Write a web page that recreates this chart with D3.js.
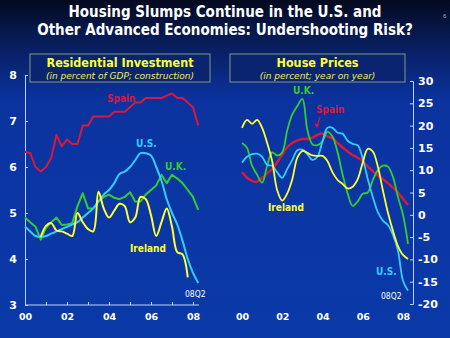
<!DOCTYPE html>
<html>
<head>
<meta charset="utf-8">
<script src="https://cdn.jsdelivr.net/npm/d3@7"></script>
<style>
  body { margin: 0; background: #0a3aa5; }
  svg { display: block; }
  .tick text { font-family: "DejaVu Sans", sans-serif; font-weight: bold; fill: #fff; }
</style>
</head>
<body>
<div id="chart-area"></div>
<script>
const width = 450, height = 338;

// quarters 2000Q1 .. 2008Q2
const quarters = d3.range(34).map(q => 2000 + q / 4);

// residential investment, percent of GDP
const invSpain = [6.33, 6.3, 6.0, 5.9, 6.0, 6.2, 6.7, 6.45, 6.6, 6.5, 6.5, 6.9, 6.9, 7.1, 7.1, 7.1, 7.1,
  7.2, 7.2, 7.2, 7.3, 7.4, 7.4, 7.5, 7.5, 7.5, 7.5, 7.55, 7.6, 7.5, 7.5, 7.4, 7.3, 6.9];
const invUS = [4.7, 4.6, 4.5, 4.48, 4.5, 4.55, 4.6, 4.65, 4.7, 4.75, 4.8, 4.9, 5.0, 5.1, 5.25, 5.4, 5.5,
  5.65, 5.85, 5.9, 6.0, 6.15, 6.3, 6.3, 6.25, 6.0, 5.7, 5.3, 5.0, 4.75, 4.4, 4.0, 3.7, 3.48];
const invUK = [4.9, 4.8, 4.7, 4.42, 4.68, 4.8, 4.9, 4.74, 4.75, 4.78, 5.15, 5.43, 5.1, 5.1, 5.25, 5.35, 5.4,
  5.33, 5.3, 5.35, 5.45, 5.25, 5.25, 5.4, 5.5, 5.6, 5.83, 5.65, 5.83, 5.75, 5.65, 5.5, 5.35, 5.07];
// Ireland: 2000Q4 .. 2007Q4
const invIreland = [null, null, null, 4.48, 4.72, 4.78, 4.62, 4.6, 4.55, 4.5, 5.0, 4.8, 4.65, 4.6, 5.46, 5.1, 4.9,
  5.05, 5.2, 5.15, 4.8, 4.9, 5.35, 5.3, 4.95, 4.5, 4.8, 5.1, 4.7, 4.15, 4.1, 3.6, null, null];

// house prices, percent year on year
const hpSpain = [9.6, 8.3, 7.6, 7.4, 8.3, 9.3, 10.3, 11.8, 13.5, 15.2, 16.1, 16.7, 17, 17, 17.3, 17.9, 18.2,
  17.6, 17.1, 16.1, 15.1, 14.2, 13.4, 12.8, 12, 10.8, 9.8, 8.8, 8, 7.1, 6.1, 5, 3.6, 2.2];
const hpUK = [16.1, 15, 11, 9, 7.2, 11, 14, 13.3, 14, 19, 22.5, 24.4, 26, 19, 15.8, 15.6, 16.5,
  18.6, 17.5, 14, 9, 4.8, 2, 3, 4.7, 5, 7.8, 10, 11, 10.8, 8.5, 4, 0, -6.5];
const hpUS = [11.7, 13, 13.6, 13.7, 13, 11.2, 11, 9.5, 8.3, 10.3, 12.3, 14.5, 14.6, 13.6, 12.3, 13, 16.5,
  19.5, 19.5, 18.4, 18.2, 16.6, 15.9, 15.6, 12.6, 8, 4, 0.6, -1.3, -2.3, -4.5, -8, -14.8, -17];
const hpIreland = [19.5, 21.3, 20.4, 21.3, 19.5, 16.1, 12, 5.5, 3.2, 4.8, 8, 12.8, 14.3, 13.9, 13.3, 13.2, 13.2,
  12, 9.5, 7.8, 6.9, 5.9, 6.3, 8, 11.7, 14.8, 14.2, 10.8, 5.5, 0.5, -3.6, -7, -9, -9.9];

const years = d3.range(2000, 2009);
const invTicks = [3, 4, 5, 6, 7, 8];
const hpTicks = d3.range(-20, 31, 5);

const cRed = '#d8183c', cCyan = '#33ccff', cGreen = '#33cc33', cYellow = '#ffff33';

let svg = d3.select('#chart-area')
  .append('svg')
  .attr('width', width)
  .attr('height', height);

// background
let grad = svg.append('defs').append('linearGradient')
  .attr('id', 'bg')
  .attr('x1', 0).attr('y1', 0).attr('x2', 0).attr('y2', 1);
grad.append('stop').attr('offset', '0%').attr('stop-color', '#03091e');
grad.append('stop').attr('offset', '12%').attr('stop-color', '#081c58');
grad.append('stop').attr('offset', '30%').attr('stop-color', '#0b33a0');
grad.append('stop').attr('offset', '100%').attr('stop-color', '#0a3aa8');
svg.append('rect').attr('width', width).attr('height', height).attr('fill', 'url(#bg)');

// title
let title = svg.append('text')
  .attr('text-anchor', 'middle')
  .attr('fill', '#fff')
  .attr('font-family', '"DejaVu Sans Condensed", "DejaVu Sans", sans-serif')
  .attr('font-stretch', 'condensed')
  .attr('font-weight', 'bold')
  .attr('font-size', '15px');
title.append('tspan').attr('x', 225).attr('y', 17).text('Housing Slumps Continue in the U.S. and');
title.append('tspan').attr('x', 225).attr('y', 35).text('Other Advanced Economies: Undershooting Risk?');

svg.append('text')
  .attr('x', 443).attr('y', 18)
  .attr('fill', '#aab')
  .attr('font-size', '6px')
  .attr('font-family', 'sans-serif')
  .text('6');

// panel headers
function header(x, w, main, sub) {
  svg.append('rect')
    .attr('x', x).attr('y', 54)
    .attr('width', w).attr('height', 28)
    .attr('fill', '#0a2470')
    .attr('stroke', '#7f9a86')
    .attr('stroke-width', 1);
  svg.append('text')
    .attr('x', x + w / 2).attr('y', 67)
    .attr('text-anchor', 'middle')
    .attr('fill', '#ffff33')
    .attr('font-family', '"DejaVu Sans Condensed", "DejaVu Sans", sans-serif')
    .attr('font-stretch', 'condensed')
    .attr('font-weight', 'bold')
    .attr('font-size', '12.5px')
    .text(main);
  svg.append('text')
    .attr('x', x + w / 2).attr('y', 79)
    .attr('text-anchor', 'middle')
    .attr('fill', '#eeee66')
    .attr('font-family', '"DejaVu Sans", sans-serif')
    .attr('font-style', 'italic')
    .attr('font-size', '9px')
    .text(sub);
}
header(30, 180, 'Residential Investment', '(in percent of GDP; construction)');
header(230, 175, 'House Prices', '(in percent; year on year)');

// scales
let xL = d3.scaleLinear().domain([2000, 2008]).range([25, 193]);
let yL = d3.scaleLinear().domain([3, 8]).range([305, 75]);
let xR = d3.scaleLinear().domain([2000, 2008]).range([242, 403]);
let yR = d3.scaleLinear().domain([-20, 30]).range([304, 81]);

// left axes
let gyL = svg.append('g')
  .attr('transform', 'translate(25,0)')
  .call(d3.axisLeft(yL).tickValues(invTicks).tickSize(-3).tickPadding(8).tickFormat(d => d));
let gxL = svg.append('g')
  .attr('transform', 'translate(0,305)')
  .call(d3.axisBottom(xL).tickValues(years).tickSize(-3).tickPadding(8)
    .tickFormat(d => d % 2 === 0 ? String(d).slice(2) : ''));
gxL.select('.domain').attr('d', 'M25,0H199');

// right axes
let gyR = svg.append('g')
  .attr('transform', 'translate(413,0)')
  .call(d3.axisRight(yR).tickValues(hpTicks).tickSize(-3).tickPadding(5).tickFormat(d => String(d)));
let gxR = svg.append('g')
  .attr('transform', 'translate(0,305)')
  .call(d3.axisBottom(xR).tickValues(years.filter(d => d % 2 === 0)).tickSize(0).tickPadding(8)
    .tickFormat(d => String(d).slice(2)));
gxR.select('.domain').remove();

[gyL, gxL, gyR, gxR].forEach(g => {
  g.selectAll('.domain').attr('stroke', '#b8d4ff').attr('stroke-width', 1);
  g.selectAll('.tick line').attr('stroke', '#b8d4ff');
});
gyL.selectAll('.tick text').attr('font-size', '11px');
gyR.selectAll('.tick text').attr('font-size', '11px');
gxL.selectAll('.tick text').attr('font-size', '9.5px');
gxR.selectAll('.tick text').attr('font-size', '9.5px');

// lines
function drawLine(x, y, values, color, w, curve) {
  let line = d3.line()
    .defined(d => d[1] != null)
    .x(d => x(d[0]))
    .y(d => y(d[1]))
    .curve(curve);
  svg.append('path')
    .datum(quarters.map((q, i) => [q, values[i]]))
    .attr('fill', 'none')
    .attr('stroke', color)
    .attr('stroke-width', w)
    .attr('stroke-linejoin', 'round')
    .attr('d', line);
}

drawLine(xL, yL, invSpain, cRed, 2, d3.curveLinear);
drawLine(xL, yL, invUK, cGreen, 2, d3.curveLinear);
drawLine(xL, yL, invUS, cCyan, 2, d3.curveCatmullRom);
drawLine(xL, yL, invIreland, cYellow, 2, d3.curveCatmullRom);

drawLine(xR, yR, hpSpain, cRed, 2.5, d3.curveCatmullRom);
drawLine(xR, yR, hpUK, cGreen, 1.8, d3.curveCatmullRom);
drawLine(xR, yR, hpUS, cCyan, 1.8, d3.curveCatmullRom);
drawLine(xR, yR, hpIreland, cYellow, 1.8, d3.curveCatmullRom);

// series labels
function label(x, y, txt, color, size, bold) {
  svg.append('text')
    .attr('x', x).attr('y', y)
    .attr('fill', color)
    .attr('font-family', '"DejaVu Sans Condensed", "DejaVu Sans", sans-serif')
    .attr('font-stretch', 'condensed')
    .attr('font-weight', bold ? 'bold' : 'normal')
    .attr('font-size', size)
    .text(txt);
}
label(107, 102, 'Spain', cRed, '10px', true);
label(136, 147, 'U.S.', cCyan, '10px', true);
label(165, 170, 'U.K.', cGreen, '10px', true);
label(130, 252, 'Ireland', cYellow, '10px', true);
label(185, 297, '08Q2', '#fff', '8.5px', false);

label(293, 94, 'U.K.', cGreen, '10px', true);
label(316, 113, 'Spain', cRed, '10px', true);
label(268, 211, 'Ireland', cYellow, '10px', true);
label(376, 275, 'U.S.', cCyan, '10px', true);
label(381, 299, '08Q2', '#fff', '8.5px', false);

// arrow from Spain label to line
svg.append('path')
  .attr('d', 'M320,117 L317,126')
  .attr('stroke', cRed).attr('stroke-width', 1.2).attr('fill', 'none');
svg.append('path')
  .attr('d', 'M314.5,123.5 L316.6,128 L319.6,124.5 Z')
  .attr('fill', cRed);
</script>
</body>
</html>
